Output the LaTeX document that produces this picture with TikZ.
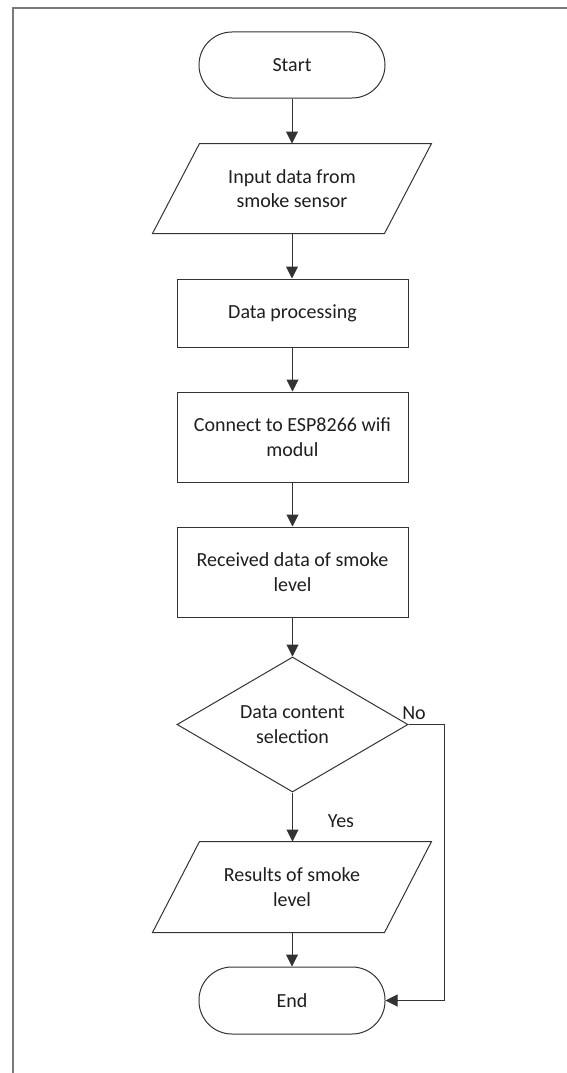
\documentclass[tikz,border=0pt]{standalone}
\usepackage{fontspec}
\setmainfont{Carlito}
\usetikzlibrary{arrows.meta,shapes.geometric}
\definecolor{ln}{HTML}{333333}
\definecolor{tx}{HTML}{1E1E1E}
\definecolor{fr}{HTML}{7A7A7A}
\tikzset{
  base/.style={draw=ln, line width=1pt, text=tx, align=center, inner sep=0pt,
    font=\fontsize{20}{24.4}\selectfont},
  term/.style={base, minimum width=186pt, minimum height=66pt, rounded corners=33pt},
  procbox/.style={base, minimum width=231pt},
  iobox/.style={base, draw=none, minimum width=278pt},
  decbox/.style={base, diamond, aspect=1.71, minimum width=231pt, minimum height=135pt},
  flow/.style={draw=ln, line width=1pt, -{Triangle[length=12pt,width=12pt]}},
  lbl/.style={text=tx, inner sep=0pt, font=\fontsize{20}{24.4}\selectfont},
}
\begin{document}
\begin{tikzpicture}[x=1pt,y=-1pt]
\useasboundingbox (0,0) rectangle (567,1073);
% frame
\draw[fr, line width=2pt] (13,1073) -- (13,8) -- (567,8);

\node[term] (start) at (292,65) {Start};
\node[iobox, minimum height=89pt] (in) at (292,188.5) {Input data from\\smoke sensor};
\draw[ln, line width=1pt] ([xshift=47pt]in.north west) -- (in.north east) -- ([xshift=-47pt]in.south east) -- (in.south west) -- cycle;
\node[procbox, minimum height=68pt] (proc) at (292.5,313) {Data processing};
\node[procbox, minimum height=90pt] (conn) at (292.5,437) {Connect to ESP8266 wifi\\modul};
\node[procbox, minimum height=90pt] (recv) at (292.5,572) {Received data of smoke\\level};
\node[decbox] (dec) at (292.5,724.5) {Data content\\selection};
\node[iobox, minimum height=90pt] (res) at (292,887) {Results of smoke\\level};
\draw[ln, line width=1pt] ([xshift=47pt]res.north west) -- (res.north east) -- ([xshift=-47pt]res.south east) -- (res.south west) -- cycle;
\node[term, minimum height=67pt] (end) at (292,1000.5) {End};

\coordinate (c1) at (444,724.5);
\coordinate (c2) at (444,1000.5);

\draw[flow] (start.south) -- (in.north);
\draw[flow] (in.south) -- (proc.north -| in.south);
\draw[flow] (proc.south) -- (conn.north);
\draw[flow] (conn.south) -- (recv.north);
\draw[flow] (recv.south) -- (dec.north);
\draw[flow] (dec.south) -- (res.north -| dec.south);
\draw[flow] (res.south) -- (end.north);
\draw[flow] (dec.east) -- (c1) -- (c2) -- (end.east);

\node[lbl] (no) at (414,713) {No};
\node[lbl] (yes) at (341,821) {Yes};
\end{tikzpicture}
\end{document}
